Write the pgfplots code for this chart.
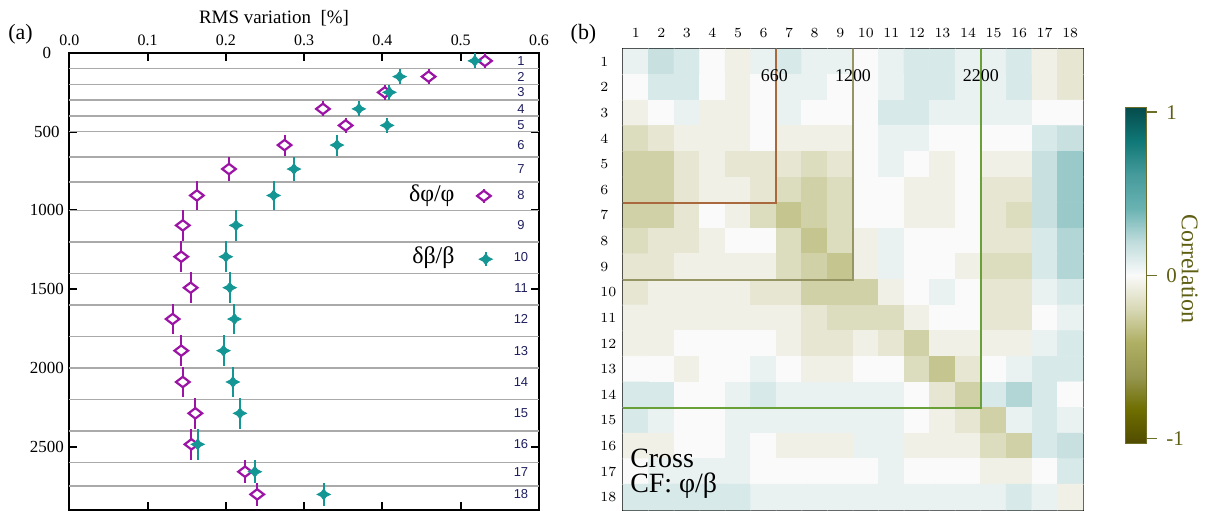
\documentclass[border=0pt]{standalone}
\usepackage{pgfplots}
\pgfplotsset{compat=1.18}
\usepackage{fontspec}
\setmainfont{Liberation Serif}
\newfontfamily\arialf{Liberation Sans}
\definecolor{phic}{RGB}{155,20,165}
\definecolor{betac}{RGB}{20,150,148}
\definecolor{navy}{RGB}{30,30,95}
\definecolor{gridg}{RGB}{170,170,170}
\definecolor{olivet}{RGB}{95,95,20}
\definecolor{olivef}{RGB}{110,110,40}
\definecolor{lA}{RGB}{170,105,60}
\definecolor{lB}{RGB}{150,150,100}
\definecolor{lC}{RGB}{105,160,55}
\pgfdeclareplotmark{odiam}{%
\pgfpathmoveto{\pgfqpoint{3.4bp}{0bp}}%
\pgfpathlineto{\pgfqpoint{0bp}{2.6bp}}%
\pgfpathlineto{\pgfqpoint{-3.4bp}{0bp}}%
\pgfpathlineto{\pgfqpoint{0bp}{-2.6bp}}%
\pgfpathclose\pgfusepathqfillstroke}
\pgfdeclareplotmark{tstar}{%
\pgfpathmoveto{\pgfqpoint{3.3bp}{0bp}}%
\pgfpathquadraticcurveto{\pgfqpoint{0.9bp}{0.7bp}}{\pgfqpoint{0bp}{2.7bp}}%
\pgfpathquadraticcurveto{\pgfqpoint{-0.9bp}{0.7bp}}{\pgfqpoint{-3.3bp}{0bp}}%
\pgfpathquadraticcurveto{\pgfqpoint{-0.9bp}{-0.7bp}}{\pgfqpoint{0bp}{-2.7bp}}%
\pgfpathquadraticcurveto{\pgfqpoint{0.9bp}{-0.7bp}}{\pgfqpoint{3.3bp}{0bp}}%
\pgfpathclose\pgfusepathqfillstroke}
\pgfplotstableread{
x y e
0.531 50 48
0.459 150 48
0.403 250 48
0.324 355 48
0.353 460 48
0.275 585 67
0.204 737 79
0.163 905 90
0.145 1095 97
0.143 1294 97
0.155 1491 97
0.132 1690 97
0.143 1891 97
0.145 2090 97
0.161 2289 97
0.156 2486 97
0.2245 2660 74
0.240 2804 71
}\phidata
\pgfplotstableread{
x y e
0.518 50 48
0.422 150 48
0.409 250 48
0.370 355 48
0.406 460 48
0.342 585 67
0.287 737 79
0.261 905 90
0.213 1095 97
0.200 1294 97
0.205 1491 97
0.211 1690 97
0.197 1891 97
0.209 2090 97
0.218 2289 97
0.164 2486 97
0.237 2660 74
0.325 2804 71
}\betadata
\begin{document}
\begin{tikzpicture}
\useasboundingbox (0,0) rectangle (605bp,255.5bp);
\begin{axis}[at={(34.65bp,0.75bp)}, anchor=south west, width=234.85bp, height=228.25bp, scale only axis,
  xmin=0, xmax=0.6, ymin=0, ymax=2900, y dir=reverse, clip=false,
  /pgf/number format/assume math mode=true,
  xtick={0,0.1,0.2,0.3,0.4,0.5,0.6}, xticklabels={0.0,0.1,0.2,0.3,0.4,0.5,0.6},
  xticklabel pos=upper,
  ytick={0,500,1000,1500,2000,2500}, yticklabels={0,500,1000,1500,2000,2500},
  yticklabel pos=left,
  tick align=inside, major tick length=4bp,
  tick style={line width=1bp, black},
  axis line style={line width=1bp},
  xticklabel style={font=\fontsize{8}{9}\selectfont},
  yticklabel style={font=\fontsize{8.5}{9}\selectfont, anchor=center, xshift=-11.2bp},
  extra y ticks={100,200,300,400,500,660,820,1000,1200,1400,1600,1800,2000,2200,2400,2600,2750},
  extra y tick labels={},
  extra y tick style={grid=major, major tick length=0pt},
  major grid style={draw=gridg, line width=0.75bp},
]
\addplot[only marks, mark=odiam, color=phic, mark options={fill=white, draw=phic, line width=1.1bp},
  error bars/.cd, y dir=both, y explicit, error mark=none, error bar style={line width=1bp, color=phic}]
  table[x=x, y=y, y error=e] {\phidata};
\addplot[only marks, mark=tstar, color=betac, mark options={fill=betac, draw=betac, line width=0.4bp},
  error bars/.cd, y dir=both, y explicit, error mark=none, error bar style={line width=1bp, color=betac}]
  table[x=x, y=y, y error=e] {\betadata};
% legend markers
\addplot[only marks, mark=odiam, color=phic, mark options={fill=white, draw=phic, line width=1.1bp},
  error bars/.cd, y dir=both, y explicit, error mark=none, error bar style={line width=1bp, color=phic}]
  coordinates {(0.5296,908) +- (0,45)};
\addplot[only marks, mark=tstar, color=betac, mark options={fill=betac, draw=betac, line width=0.4bp},
  error bars/.cd, y dir=both, y explicit, error mark=none, error bar style={line width=1bp, color=betac}]
  coordinates {(0.532,1310) +- (0,45)};
\node[anchor=east, inner sep=0pt, font=\fontsize{12}{14}\selectfont] at (axis cs:0.4926,905) {δφ/φ};
\node[anchor=east, inner sep=0pt, font=\fontsize{12}{14}\selectfont] at (axis cs:0.4926,1302) {δβ/β};
\addplot[only marks, mark=none, point meta=explicit symbolic, nodes near coords,
  nodes near coords style={anchor=center, inner sep=0pt, text=navy, font=\arialf\fontsize{6.5}{7}\selectfont}]
  coordinates {(0.577,50)[1] (0.577,150)[2] (0.577,250)[3] (0.577,355)[4] (0.577,460)[5] (0.577,585)[6]
  (0.577,737)[7] (0.577,905)[8] (0.577,1095)[9] (0.577,1294)[10] (0.577,1491)[11] (0.577,1690)[12]
  (0.577,1891)[13] (0.577,2090)[14] (0.577,2289)[15] (0.577,2486)[16] (0.577,2660)[17] (0.577,2804)[18]};
\end{axis}
\begin{axis}[at={(311.5bp,0.5bp)}, anchor=south west, width=230bp, height=230.5bp, scale only axis,
  xmin=0.5, xmax=18.5, ymin=0.5, ymax=18.5, y dir=reverse, clip=false,
  xtick={1,...,18}, ytick={1,...,18}, xticklabel pos=upper, yticklabel pos=left,
  major tick length=0pt,
  axis line style={line width=1.1bp},
  xticklabel style={font=\arialf\fontsize{7.2}{8}\selectfont, inner sep=0pt, anchor=south, yshift=5.5bp},
  yticklabel style={font=\arialf\fontsize{7.2}{8}\selectfont, inner sep=0pt, anchor=west, xshift=-11.5bp},
  colormap={corr}{rgb255(0cm)=(80,75,0); rgb255(1cm)=(110,110,0); rgb255(2cm)=(150,150,80); rgb255(3cm)=(175,175,100); rgb255(4cm)=(216,216,182); rgb255(5cm)=(250,250,250); rgb255(6cm)=(192,220,220); rgb255(7cm)=(105,178,178); rgb255(8cm)=(70,155,155); rgb255(9cm)=(15,120,118); rgb255(10cm)=(5,75,75)},
  point meta min=-1.03, point meta max=1.03,
  colorbar,
  colorbar style={at={(parent axis.east)}, anchor=west, xshift=12.85bp, yshift=2.1bp,
    width=10.5bp, height=168bp, scale only axis,
    ytick={-1,0,1}, yticklabels={-1,0,1}, ytick pos=right, yticklabel pos=right,
    axis line style={draw=olivef, line width=0.75bp},
    tick style={draw=olivef, line width=0.75bp},
    major tick length=5bp, tick align=outside,
    yticklabel style={text=olivet, font=\fontsize{10.5}{12}\selectfont, anchor=west, inner sep=0pt, xshift=4.6bp},
  },
]
\addplot[matrix plot*, mesh/cols=18, point meta=explicit] table[row sep=\\, meta=c] {
x y c\\
1 1 0.06\\ 2 1 0.18\\ 3 1 0.12\\ 4 1 0\\ 5 1 -0.06\\ 6 1 0.06\\ 7 1 0.12\\ 8 1 0.06\\ 9 1 0.06\\ 10 1 0\\ 11 1 0.06\\ 12 1 0.12\\ 13 1 0.12\\ 14 1 0.06\\ 15 1 0.06\\ 16 1 0.12\\ 17 1 -0.06\\ 18 1 -0.12\\
1 2 0\\ 2 2 0.12\\ 3 2 0.12\\ 4 2 0\\ 5 2 -0.06\\ 6 2 0\\ 7 2 0.06\\ 8 2 0.06\\ 9 2 0\\ 10 2 0\\ 11 2 0.06\\ 12 2 0.12\\ 13 2 0.12\\ 14 2 0.06\\ 15 2 0.06\\ 16 2 0.12\\ 17 2 -0.06\\ 18 2 -0.12\\
1 3 -0.06\\ 2 3 0\\ 3 3 0.06\\ 4 3 -0.06\\ 5 3 -0.06\\ 6 3 0\\ 7 3 0.06\\ 8 3 0\\ 9 3 0\\ 10 3 0\\ 11 3 0.12\\ 12 3 0.12\\ 13 3 0.06\\ 14 3 0.06\\ 15 3 0.06\\ 16 3 0.06\\ 17 3 0\\ 18 3 0\\
1 4 -0.18\\ 2 4 -0.12\\ 3 4 -0.06\\ 4 4 -0.06\\ 5 4 -0.06\\ 6 4 0\\ 7 4 -0.06\\ 8 4 -0.06\\ 9 4 -0.06\\ 10 4 0\\ 11 4 0.06\\ 12 4 0.06\\ 13 4 0\\ 14 4 0\\ 15 4 0\\ 16 4 0\\ 17 4 0.12\\ 18 4 0.18\\
1 5 -0.24\\ 2 5 -0.24\\ 3 5 -0.12\\ 4 5 -0.06\\ 5 5 -0.12\\ 6 5 -0.12\\ 7 5 -0.12\\ 8 5 -0.18\\ 9 5 -0.12\\ 10 5 0\\ 11 5 0.06\\ 12 5 0\\ 13 5 -0.06\\ 14 5 0\\ 15 5 -0.06\\ 16 5 -0.06\\ 17 5 0.18\\ 18 5 0.30\\
1 6 -0.24\\ 2 6 -0.24\\ 3 6 -0.12\\ 4 6 -0.06\\ 5 6 -0.06\\ 6 6 -0.12\\ 7 6 -0.18\\ 8 6 -0.24\\ 9 6 -0.18\\ 10 6 0\\ 11 6 0\\ 12 6 -0.06\\ 13 6 -0.06\\ 14 6 0\\ 15 6 -0.12\\ 16 6 -0.12\\ 17 6 0.18\\ 18 6 0.30\\
1 7 -0.24\\ 2 7 -0.24\\ 3 7 -0.12\\ 4 7 0\\ 5 7 -0.06\\ 6 7 -0.18\\ 7 7 -0.30\\ 8 7 -0.24\\ 9 7 -0.18\\ 10 7 0\\ 11 7 0\\ 12 7 -0.06\\ 13 7 -0.06\\ 14 7 0\\ 15 7 -0.12\\ 16 7 -0.18\\ 17 7 0.18\\ 18 7 0.30\\
1 8 -0.18\\ 2 8 -0.12\\ 3 8 -0.12\\ 4 8 -0.06\\ 5 8 0\\ 6 8 0\\ 7 8 -0.18\\ 8 8 -0.30\\ 9 8 -0.18\\ 10 8 -0.06\\ 11 8 0.06\\ 12 8 0\\ 13 8 0\\ 14 8 0\\ 15 8 -0.12\\ 16 8 -0.12\\ 17 8 0.12\\ 18 8 0.24\\
1 9 -0.12\\ 2 9 -0.12\\ 3 9 -0.06\\ 4 9 -0.06\\ 5 9 -0.06\\ 6 9 -0.06\\ 7 9 -0.18\\ 8 9 -0.24\\ 9 9 -0.30\\ 10 9 -0.06\\ 11 9 0.06\\ 12 9 0\\ 13 9 0\\ 14 9 -0.06\\ 15 9 -0.18\\ 16 9 -0.18\\ 17 9 0.12\\ 18 9 0.24\\
1 10 -0.12\\ 2 10 -0.06\\ 3 10 -0.06\\ 4 10 -0.06\\ 5 10 -0.06\\ 6 10 -0.12\\ 7 10 -0.12\\ 8 10 -0.24\\ 9 10 -0.24\\ 10 10 -0.24\\ 11 10 -0.06\\ 12 10 0\\ 13 10 0.06\\ 14 10 0\\ 15 10 -0.12\\ 16 10 -0.12\\ 17 10 0.06\\ 18 10 0.12\\
1 11 -0.06\\ 2 11 -0.06\\ 3 11 -0.06\\ 4 11 -0.06\\ 5 11 -0.06\\ 6 11 -0.06\\ 7 11 -0.06\\ 8 11 -0.12\\ 9 11 -0.18\\ 10 11 -0.18\\ 11 11 -0.18\\ 12 11 -0.06\\ 13 11 0\\ 14 11 0\\ 15 11 -0.12\\ 16 11 -0.12\\ 17 11 0\\ 18 11 0.06\\
1 12 -0.06\\ 2 12 -0.06\\ 3 12 0\\ 4 12 0\\ 5 12 0\\ 6 12 0\\ 7 12 -0.06\\ 8 12 -0.12\\ 9 12 -0.12\\ 10 12 -0.06\\ 11 12 -0.12\\ 12 12 -0.24\\ 13 12 -0.06\\ 14 12 -0.06\\ 15 12 -0.06\\ 16 12 -0.06\\ 17 12 0.06\\ 18 12 0.12\\
1 13 0\\ 2 13 0\\ 3 13 -0.06\\ 4 13 0\\ 5 13 0\\ 6 13 0.06\\ 7 13 0\\ 8 13 -0.06\\ 9 13 -0.06\\ 10 13 0\\ 11 13 0\\ 12 13 -0.18\\ 13 13 -0.30\\ 14 13 -0.12\\ 15 13 0\\ 16 13 0.06\\ 17 13 0.12\\ 18 13 0.12\\
1 14 0.12\\ 2 14 0.12\\ 3 14 0\\ 4 14 0\\ 5 14 0.06\\ 6 14 0.12\\ 7 14 0.06\\ 8 14 0.06\\ 9 14 0.06\\ 10 14 0.06\\ 11 14 0.06\\ 12 14 0\\ 13 14 -0.12\\ 14 14 -0.24\\ 15 14 0.12\\ 16 14 0.24\\ 17 14 0.12\\ 18 14 0\\
1 15 0.12\\ 2 15 0.06\\ 3 15 0\\ 4 15 0\\ 5 15 0.06\\ 6 15 0.06\\ 7 15 0.06\\ 8 15 0.06\\ 9 15 0.06\\ 10 15 0.06\\ 11 15 0.06\\ 12 15 0\\ 13 15 -0.06\\ 14 15 -0.12\\ 15 15 -0.24\\ 16 15 0.06\\ 17 15 0.12\\ 18 15 0.06\\
1 16 -0.06\\ 2 16 -0.06\\ 3 16 0\\ 4 16 0\\ 5 16 0.06\\ 6 16 0\\ 7 16 -0.06\\ 8 16 -0.06\\ 9 16 -0.06\\ 10 16 0.06\\ 11 16 0.06\\ 12 16 -0.06\\ 13 16 -0.06\\ 14 16 -0.06\\ 15 16 -0.18\\ 16 16 -0.24\\ 17 16 0.12\\ 18 16 0.18\\
1 17 0\\ 2 17 0.06\\ 3 17 0.06\\ 4 17 0.06\\ 5 17 0.06\\ 6 17 0\\ 7 17 0\\ 8 17 0\\ 9 17 0\\ 10 17 0\\ 11 17 0.06\\ 12 17 0\\ 13 17 0\\ 14 17 0\\ 15 17 -0.06\\ 16 17 -0.06\\ 17 17 0\\ 18 17 0.12\\
1 18 0.12\\ 2 18 0.12\\ 3 18 0.12\\ 4 18 0.12\\ 5 18 0.12\\ 6 18 0.06\\ 7 18 0.06\\ 8 18 0.06\\ 9 18 0.06\\ 10 18 0.06\\ 11 18 0.06\\ 12 18 0.06\\ 13 18 0.06\\ 14 18 0.06\\ 15 18 0.06\\ 16 18 0.12\\ 17 18 0.06\\ 18 18 -0.06\\
};
\addplot[draw=lA, line width=1bp, no marks] coordinates {(0.5,6.5) (6.5,6.5) (6.5,0.5)};
\addplot[draw=lB, line width=1bp, no marks] coordinates {(0.5,9.5) (9.5,9.5) (9.5,0.5)};
\addplot[draw=lC, line width=1bp, no marks] coordinates {(0.5,14.5) (14.5,14.5) (14.5,0.5)};
\node[font=\fontsize{9}{10}\selectfont, inner sep=0pt] at (axis cs:6.42,1.55) {660};
\node[font=\fontsize{9}{10}\selectfont, inner sep=0pt] at (axis cs:9.5,1.55) {1200};
\node[font=\fontsize{9}{10}\selectfont, inner sep=0pt] at (axis cs:14.5,1.55) {2200};
\node[anchor=base west, inner sep=0pt, font=\fontsize{14}{16}\selectfont] at (axis cs:0.77,16.83) {Cross};
\node[anchor=base west, inner sep=0pt, font=\fontsize{14}{16}\selectfont] at (axis cs:0.77,17.82) {CF: φ/β};
\end{axis}
\node[font=\fontsize{11}{12}\selectfont, inner sep=0pt] at (10.25bp,238.25bp) {(a)};
\node[font=\fontsize{11}{12}\selectfont, inner sep=0pt] at (291.75bp,238.5bp) {(b)};
\node[font=\fontsize{9.5}{11}\selectfont, inner sep=0pt] at (137bp,246.5bp) {RMS variation\ \ [\%]};
\node[rotate=-90, text=olivet, font=\fontsize{12}{13}\selectfont, inner sep=0pt] at (595bp,121bp) {Correlation};
\end{tikzpicture}
\end{document}
